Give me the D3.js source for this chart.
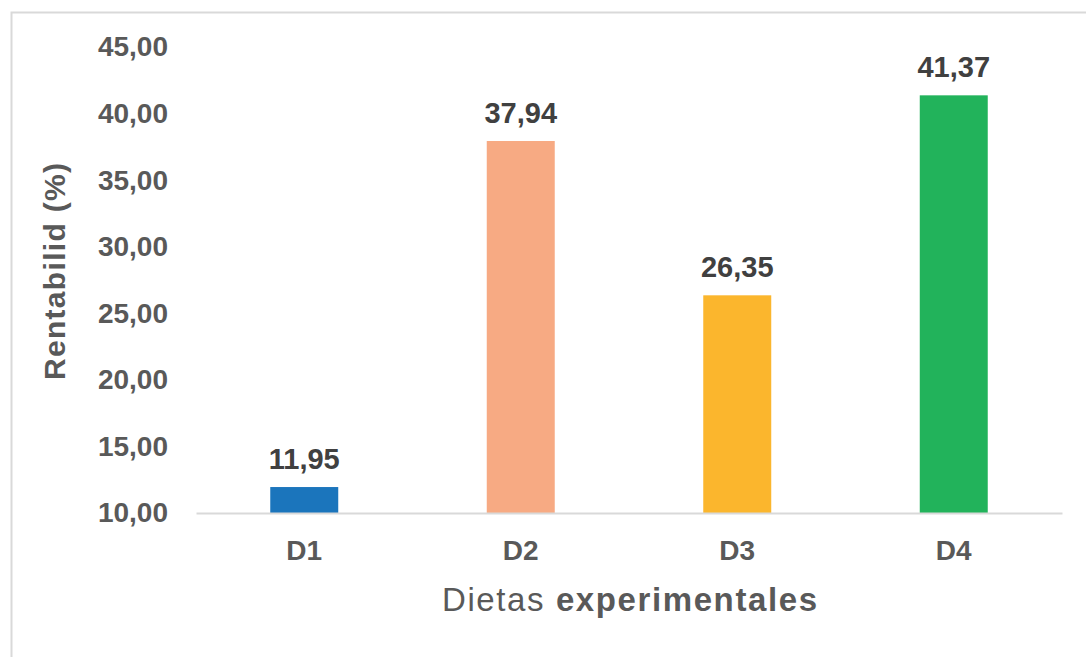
<!DOCTYPE html>
<html>
<head>
<meta charset="utf-8">
<script src="https://cdn.jsdelivr.net/npm/d3@7"></script>
<style>
  body { margin: 0; background: #fff; }
  svg text { font-family: "Liberation Sans", Arial, sans-serif; }
</style>
</head>
<body>
<svg id="chart" width="1086" height="657"></svg>
<script>
// chart data
var diets = ["D1", "D2", "D3", "D4"];
var rentabilidad = [11.95, 37.94, 26.35, 41.37];
var barColors = ["#1b75bc", "#f7aa83", "#fbb62d", "#22b35b"];
var yTicks = [10, 15, 20, 25, 30, 35, 40, 45];

function drawChart() {
    let chart = d3.select("#chart");
    let margin = { top: 47, right: 24, bottom: 144, left: 196 },
        width = 1062 - margin.left,
        height = 513 - margin.top;

    let fmt = d => d3.format(".2f")(d).replace(".", ",");

    // outer frame (right / bottom edges fall outside the picture)
    chart.append("rect")
        .attr("x", 11.5)
        .attr("y", 12.5)
        .attr("width", 1100)
        .attr("height", 700)
        .style("fill", "none")
        .style("stroke", "#d9d9d9")
        .style("stroke-width", 2);

    let x = d3.scaleBand()
        .domain(diets)
        .range([0, width])
        .paddingInner(0.686)
        .paddingOuter(0.343);

    let y = d3.scaleLinear()
        .domain([10, 45])
        .range([height, 0]);

    let focus = chart.append("g")
        .attr("transform", "translate(" + margin.left + "," + margin.top + ")");

    let yAxis = d3.axisLeft(y)
        .tickValues(yTicks)
        .tickSize(0)
        .tickPadding(28)
        .tickFormat(fmt);

    let yg = focus.append("g").call(yAxis);
    yg.select(".domain").remove();
    yg.selectAll("text")
        .style("font-size", "28px")
        .style("font-weight", "bold")
        .style("fill", "#595959");

    focus.selectAll(".bar")
        .data(rentabilidad)
        .enter()
        .append("rect")
        .attr("class", "bar")
        .attr("x", (d, i) => x(diets[i]))
        .attr("width", x.bandwidth())
        .attr("y", d => y(d))
        .attr("height", d => height - y(d))
        .style("fill", (d, i) => barColors[i]);

    let xAxis = d3.axisBottom(x)
        .tickSize(0)
        .tickPadding(27);

    let xg = focus.append("g")
        .attr("transform", "translate(0," + height + ")")
        .call(xAxis);
    xg.select(".domain")
        .style("stroke", "#d9d9d9")
        .style("stroke-width", 2);
    xg.selectAll("text")
        .style("font-size", "28px")
        .style("font-weight", "bold")
        .style("fill", "#595959");

    focus.selectAll(".value-label")
        .data(rentabilidad)
        .enter()
        .append("text")
        .attr("class", "value-label")
        .attr("text-anchor", "middle")
        .attr("x", (d, i) => x(diets[i]) + x.bandwidth() / 2)
        .attr("y", d => y(d) - 18)
        .style("font-size", "29px")
        .style("font-weight", "bold")
        .style("fill", "#404040")
        .text(fmt);

    // axis titles
    let xt = chart.append("text")
        .attr("x", 442)
        .attr("y", 611)
        .attr("textLength", 375)
        .attr("lengthAdjust", "spacing")
        .style("font-size", "33px")
        .style("fill", "#595959");
    xt.append("tspan").text("Dietas ");
    xt.append("tspan").style("font-weight", "bold").text("experimentales");

    chart.append("text")
        .attr("transform", "translate(65,380) rotate(-90)")
        .attr("textLength", 217)
        .attr("lengthAdjust", "spacing")
        .style("font-size", "30px")
        .style("font-weight", "bold")
        .style("fill", "#595959")
        .text("Rentabilid (%)");
}

drawChart();
</script>
</body>
</html>
